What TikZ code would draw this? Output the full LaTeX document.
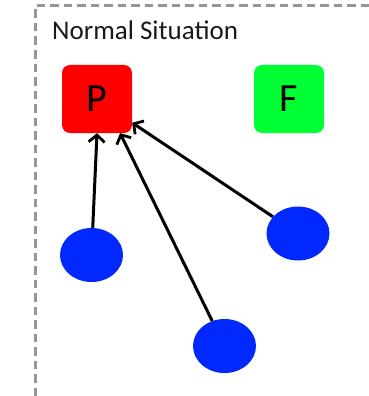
\documentclass[tikz,border=0pt]{standalone}
\usepackage{fontspec}
\setmainfont{Carlito}
\usetikzlibrary{shapes.geometric,arrows.meta}
\definecolor{boxred}{RGB}{255,0,0}
\definecolor{boxgreen}{RGB}{0,255,51}
\definecolor{dotblue}{RGB}{0,40,255}
\definecolor{framegray}{RGB}{150,150,150}
\tikzset{
  statebox/.style={rounded corners=8pt, minimum width=70pt, minimum height=68pt,
    inner sep=0pt, font=\fontsize{40}{42}\selectfont, text=black},
  dot/.style={ellipse, fill=dotblue, minimum width=63pt, minimum height=54pt, inner sep=0pt},
  link/.style={line width=3pt, black, -{Straight Barb[length=7pt,width=16pt,line width=2.8pt]}},
  frame/.style={draw=framegray, line width=3pt, dash pattern=on 8.5pt off 5pt}
}
\begin{document}
\begin{tikzpicture}[x=1pt,y=-1pt]
\useasboundingbox (0,0) rectangle (369,396);
\coordinate (fbl) at (35,396);
\coordinate (ftl) at (35,6);
\coordinate (ftr) at (369,6);
\draw[frame] (fbl) -- (ftl) -- (ftr);
\node[anchor=base west, inner sep=0pt, font=\fontsize{27}{30}\selectfont, text=black!90] (title) at (52,40) {Normal Situation};
\node[statebox, fill=boxred] (P) at (97,99) {P};
\node[statebox, fill=boxgreen] (F) at (289,99) {F};
\node[dot] (e1) at (91.5,255) {};
\node[dot] (e2) at (224.5,346) {};
\node[dot] (e3) at (298,233.5) {};
\draw[link] (e1) -- (P.south);
\draw[link] (e2) -- (P.-56);
\draw[link] (e3) -- (P.-34);
\end{tikzpicture}
\end{document}
